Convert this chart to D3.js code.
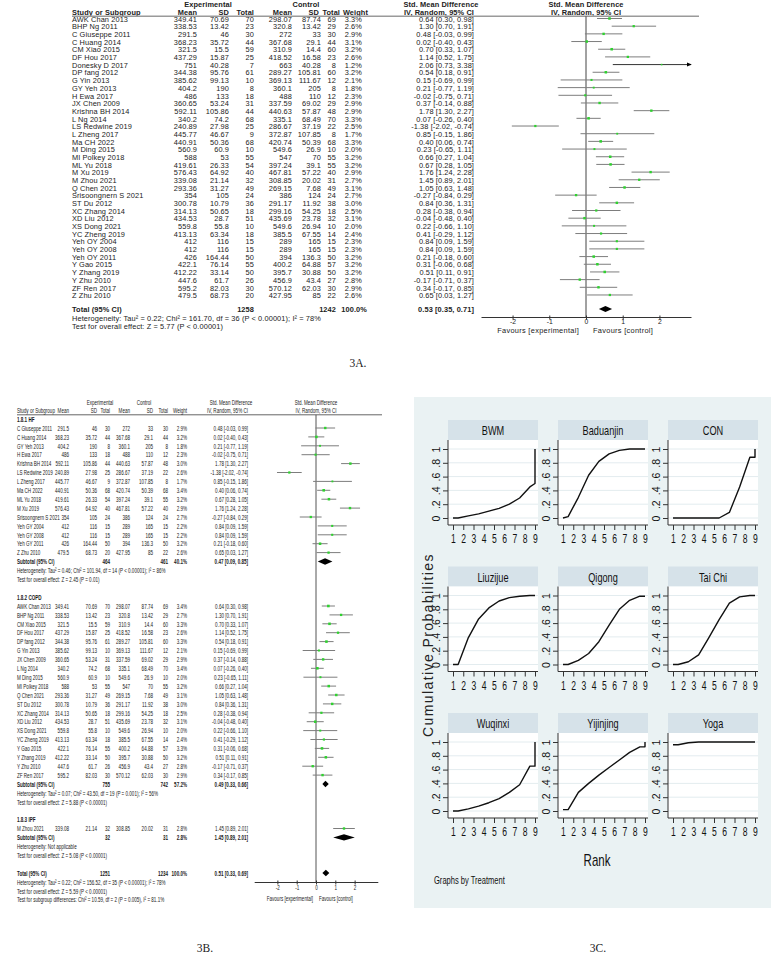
<!DOCTYPE html>
<html>
<head>
<meta charset="utf-8">
<script src="https://cdn.jsdelivr.net/npm/d3@7"></script>
<style>
  body { margin: 0; background: #fff; }
  svg { display: block; }
</style>
</head>
<body>
<svg id="fig" width="776" height="959"></svg>
<script>
// ---- 3A data (all studies) ----
const namesA = ["AWK Chan 2013", "BHP Ng 2011", "C Giuseppe 2011", "C Huang 2014", "CM Xiao 2015", "DF Hou 2017",
  "Donesky D 2017", "DP fang 2012", "G Yin 2013", "GY Yeh 2013", "H Ewa 2017", "JX Chen 2009", "Krishna BH 2014",
  "L Ng 2014", "LS Redwine 2019", "L Zheng 2017", "Ma CH 2022", "M Ding 2015", "MI Polkey 2018", "ML Yu 2018",
  "M Xu 2019", "M Zhou 2021", "Q Chen 2021", "Srisoongnern S 2021", "ST Du 2012", "XC Zhang 2014", "XD Liu 2012",
  "XS Dong 2021", "YC Zheng 2019", "Yeh OY 2004", "Yeh OY 2008", "Yeh OY 2011", "Y Gao 2015", "Y Zhang 2019",
  "Y Zhu 2010", "ZF Ren 2017", "Z Zhu 2010"];
const expMeanA = [349.41, 338.53, 291.5, 368.23, 321.5, 437.29, 751, 344.38, 385.62, 404.2, 486, 360.65, 592.11, 340.2,
  240.89, 445.77, 440.91, 560.9, 588, 419.61, 576.43, 339.08, 293.36, 354, 300.78, 314.13, 434.53, 559.8, 413.13, 412,
  412, 426, 422.1, 412.22, 447.6, 595.2, 479.5];
const expSdA = [70.69, 13.42, 46, 35.72, 15.5, 15.87, 40.28, 95.76, 99.13, 190, 133, 53.24, 105.86, 74.2, 27.98, 46.67,
  50.36, 60.9, 53, 26.33, 64.92, 21.14, 31.27, 105, 10.79, 50.65, 28.7, 55.8, 63.34, 116, 116, 164.44, 76.14, 33.14,
  61.7, 82.03, 68.73];
const expNA = [70, 23, 30, 44, 59, 25, 7, 61, 10, 8, 18, 31, 44, 68, 25, 9, 68, 10, 55, 54, 40, 32, 49, 24, 36, 18, 51,
  10, 18, 15, 15, 50, 55, 50, 26, 30, 20];
const ctlMeanA = [298.07, 320.8, 272, 367.68, 310.9, 418.52, 663, 289.27, 369.13, 360.1, 488, 337.59, 440.63, 335.1,
  286.67, 372.87, 420.74, 549.6, 547, 397.24, 467.81, 308.85, 269.15, 386, 291.17, 299.16, 435.69, 549.6, 385.5, 289,
  289, 394, 400.2, 395.7, 456.9, 570.12, 427.95];
const ctlSdA = [87.74, 13.42, 33, 29.1, 14.4, 16.58, 40.28, 105.81, 111.67, 205, 110, 69.02, 57.87, 68.49, 37.19,
  107.85, 50.39, 26.9, 70, 39.1, 57.22, 20.02, 7.68, 124, 11.92, 54.25, 23.78, 26.94, 67.55, 165, 165, 136.3, 64.88,
  30.88, 43.4, 62.03, 85];
const ctlNA = [69, 29, 30, 44, 60, 23, 8, 60, 12, 8, 12, 29, 48, 70, 22, 8, 68, 10, 55, 55, 40, 31, 49, 24, 38, 18, 32,
  10, 14, 15, 15, 50, 57, 50, 27, 30, 22];
const weightA = [3.3, 2.6, 2.9, 3.1, 3.2, 2.6, 1.2, 3.2, 2.1, 1.8, 2.3, 2.9, 2.9, 3.3, 2.5, 1.7, 3.3, 2.0, 3.2, 3.2, 2.9,
  2.7, 3.1, 2.7, 3.0, 2.5, 3.1, 2.0, 2.4, 2.3, 2.3, 3.2, 3.2, 3.2, 2.8, 2.9, 2.6];
const smdA = [0.64, 1.30, 0.48, 0.02, 0.70, 1.14, 2.06, 0.54, 0.15, 0.21, -0.02, 0.37, 1.78, 0.07, -1.38, 0.85, 0.40,
  0.23, 0.66, 0.67, 1.76, 1.45, 1.05, -0.27, 0.84, 0.28, -0.04, 0.22, 0.41, 0.84, 0.84, 0.21, 0.31, 0.51, -0.17, 0.34, 0.65];
const loA = [0.30, 0.70, -0.03, -0.40, 0.33, 0.52, 0.73, 0.18, -0.69, -0.77, -0.75, -0.14, 1.30, -0.26, -2.02, -0.15,
  0.06, -0.65, 0.27, 0.28, 1.24, 0.89, 0.63, -0.84, 0.36, -0.38, -0.48, -0.66, -0.29, 0.09, 0.09, -0.18, -0.06, 0.11,
  -0.71, -0.17, 0.03];
const hiA = [0.98, 1.91, 0.99, 0.43, 1.07, 1.75, 3.38, 0.91, 0.99, 1.19, 0.71, 0.88, 2.27, 0.40, -0.74, 1.86, 0.74,
  1.11, 1.04, 1.05, 2.28, 2.01, 1.48, 0.29, 1.31, 0.94, 0.40, 1.10, 1.12, 1.59, 1.59, 0.60, 0.68, 0.91, 0.37, 0.85, 1.27];
const totalA = [1258, 1242, 100.0, 0.53, 0.35, 0.71];
const hetA = "Heterogeneity: Tau\u00b2 = 0.22; Chi\u00b2 = 161.70, df = 36 (P < 0.00001); I\u00b2 = 78%";
const testA = "Test for overall effect: Z = 5.77 (P < 0.00001)";

// ---- 3B data (subgroups, indexes into the 3A arrays) ----
const groupLabelsB = ["1.8.1 HF", "1.8.2 COPD", "1.8.3 IPF"];
const groupIdxB = [
  [2, 3, 9, 10, 12, 14, 15, 16, 19, 20, 23, 29, 30, 31, 36],
  [0, 1, 4, 5, 7, 8, 11, 13, 17, 18, 22, 24, 25, 26, 27, 28, 32, 33, 34, 35],
  [21]];
const groupNamesB = [
  ["C Giuseppe 2011", "C Huang 2014", "GY Yeh 2013", "H Ewa 2017", "Krishna BH 2014", "LS Redwine 2019", "L Zheng 2017",
   "Ma CH 2022", "ML Yu 2018", "M Xu 2019", "Srisoongnern S 2021", "Yeh GY 2004", "Yeh GY 2008", "Yeh GY 2011", "Z Zhu 2010"],
  null, null];
const groupWeightB = [
  [2.9, 3.2, 1.8, 2.3, 3.0, 2.6, 1.7, 3.4, 3.2, 2.9, 2.7, 2.2, 2.2, 3.2, 2.6],
  [3.4, 2.7, 3.3, 2.6, 3.3, 2.1, 2.9, 3.4, 2.0, 3.2, 3.1, 3.0, 2.5, 3.1, 2.0, 2.4, 3.3, 3.2, 2.8, 2.9],
  [2.8]];
const subtotalB = [[464, 461, 40.1, 0.47, 0.09, 0.85], [755, 742, 57.2, 0.49, 0.33, 0.66], [32, 31, 2.8, 1.45, 0.89, 2.01]];
const hetB = ["Heterogeneity: Tau\u00b2 = 0.46; Chi\u00b2 = 101.94, df = 14 (P < 0.00001); I\u00b2 = 86%",
  "Heterogeneity: Tau\u00b2 = 0.07; Chi\u00b2 = 43.50, df = 19 (P = 0.001); I\u00b2 = 56%",
  "Heterogeneity: Not applicable"];
const testB = ["Test for overall effect: Z = 2.45 (P = 0.01)", "Test for overall effect: Z = 5.88 (P < 0.00001)",
  "Test for overall effect: Z = 5.08 (P < 0.00001)"];
const totalB = [1251, 1234, 100.0, 0.51, 0.33, 0.69];
const totalTextB = ["Heterogeneity: Tau\u00b2 = 0.22; Chi\u00b2 = 156.52, df = 35 (P < 0.00001); I\u00b2 = 78%",
  "Test for overall effect: Z = 5.59 (P < 0.00001)",
  "Test for subgroup differences: Chi\u00b2 = 10.59, df = 2 (P = 0.005), I\u00b2 = 81.1%"];
const smdTicks = [-2, -1, 0, 1, 2];

// ---- 3C data (cumulative ranking probabilities, [rank, prob]) ----
const treatments = ["BWM", "Baduanjin", "CON", "Liuzijue", "Qigong", "Tai Chi", "Wuqinxi", "Yijinjing", "Yoga"];
const rankTicks = [1, 2, 3, 4, 5, 6, 7, 8, 9];
const probTicks = [0, 0.2, 0.4, 0.6, 0.8, 1];
const cumBWM = [[1, 0], [1.5, 0], [2.5, 0.03], [3.5, 0.06], [4.5, 0.1], [5.5, 0.14], [6.5, 0.2], [7.5, 0.29], [8.5, 0.45], [9, 0.5], [9, 1]];
const cumBaduanjin = [[1, 0], [1.5, 0.02], [2.5, 0.3], [3.5, 0.62], [4.5, 0.82], [5.5, 0.93], [6.5, 0.98], [7.5, 1], [9, 1]];
const cumCON = [[1, 0], [5.5, 0], [6.5, 0.08], [7.5, 0.45], [8.5, 0.88], [9, 0.88], [9, 1]];
const cumLiuzijue = [[1, 0], [1.5, 0], [2.5, 0.39], [3.5, 0.66], [4.5, 0.82], [5.5, 0.92], [6.5, 0.97], [7.5, 0.99], [8.5, 1], [9, 1]];
const cumQigong = [[1, 0], [1.5, 0], [2.5, 0.06], [3.5, 0.16], [4.5, 0.33], [5.5, 0.57], [6.5, 0.8], [7.5, 0.93], [8.5, 0.99], [9, 0.99]];
const cumTaiChi = [[1, 0], [1.5, 0], [2.5, 0.04], [3.5, 0.14], [4.5, 0.39], [5.5, 0.65], [6.5, 0.89], [7.5, 0.98], [8.5, 1], [9, 1]];
const cumWuqinxi = [[1, 0], [1.5, 0], [2.5, 0.03], [3.5, 0.07], [4.5, 0.12], [5.5, 0.18], [6.5, 0.27], [7.5, 0.38], [8.5, 0.65], [9, 0.65], [9, 1]];
const cumYijinjing = [[1, 0.02], [1.5, 0.02], [2.5, 0.27], [3.5, 0.4], [4.5, 0.52], [5.5, 0.63], [6.5, 0.74], [7.5, 0.85], [8.5, 0.93], [9, 0.93], [9, 1]];
const cumYoga = [[1, 0.96], [1.5, 0.96], [2.5, 0.99], [3.5, 1], [9, 1]];
const cumAll = [cumBWM, cumBaduanjin, cumCON, cumLiuzijue, cumQigong, cumTaiChi, cumWuqinxi, cumYijinjing, cumYoga];

// ---------------------------------------------------------------
const svg = d3.select("#fig");
const loc = d3.formatLocale({decimal: ".", thousands: ",", grouping: [3], currency: ["", ""], minus: "-"});
const f2 = loc.format(".2f"), f1 = loc.format(".1f");
const ciStr = (m, l, h) => f2(m) + " [" + f2(l) + ", " + f2(h) + "]";
const SANS = "'Liberation Sans', Arial, sans-serif";
const SERIF = "'Liberation Serif', 'Times New Roman', serif";

// text helper: sx squeezes / stretches horizontally
const txt = (g, x, y, s, o = {}) => g.append("text")
  .attr("transform", "translate(" + x + "," + y + ") scale(" + (o.sx || 1) + ",1)")
  .attr("text-anchor", o.anchor || "start")
  .attr("font-family", o.font || SANS)
  .attr("font-size", o.size || 8)
  .attr("font-weight", o.bold ? "bold" : null)
  .attr("letter-spacing", o.ls || null)
  .attr("fill", o.fill || "#1a1a1a")
  .text(s);

const defs = svg.append("defs");
defs.append("marker").attr("id", "arrow").attr("viewBox", "0 0 6 6").attr("refX", 5).attr("refY", 3)
  .attr("markerWidth", 5).attr("markerHeight", 5).attr("orient", "auto")
  .append("path").attr("d", "M0,0.5L6,3L0,5.5Z").attr("fill", "#000");

const sq = d3.scaleSqrt().domain([0, 3.4]).range([0, 2.6]);
const diamond = (g, x, y, l, m, h, hh) => g.append("path")
  .attr("d", "M" + x(l) + "," + y + "L" + x(m) + "," + (y - hh) + "L" + x(h) + "," + y + "L" + x(m) + "," + (y + hh) + "Z")
  .attr("fill", "#000");

const studyMark = (g, x, y, i, w) => {
  const [d0, d1] = x.domain();
  const line = g.append("line")
    .attr("x1", x(Math.max(loA[i], d0))).attr("x2", x(Math.min(hiA[i], d1)))
    .attr("y1", y).attr("y2", y)
    .attr("stroke", "#7d7d7d").attr("stroke-width", 1);
  if (hiA[i] > d1) line.attr("stroke", "#333").attr("marker-end", "url(#arrow)");
  const s = sq(w);
  g.append("rect").attr("x", x(smdA[i]) - s / 2).attr("y", y - s / 2)
    .attr("width", s).attr("height", s).attr("fill", "#2fd12f");
};

const forestAxis = (g, x, y, o) => {
  g.append("g").attr("transform", "translate(0," + y + ")")
    .call(d3.axisBottom(x).tickValues(smdTicks).tickSize(2.5).tickSizeOuter(0).tickFormat(d => String(d)))
    .call(a => a.select(".domain").attr("stroke", "#333"))
    .call(a => a.selectAll(".tick line").attr("stroke", "#333").attr("y1", -1.5))
    .call(a => a.selectAll(".tick text").attr("font-family", SANS).attr("font-size", o.tick)
      .attr("fill", "#222").attr("y", o.tickY).attr("transform", "scale(" + o.sx + ",1)"));
  txt(g, x(0) - o.gap, o.favY, "Favours [experimental]", {anchor: "end", size: o.size, sx: o.sx, ls: o.ls});
  txt(g, x(0) + o.gap, o.favY, "Favours [control]", {size: o.size, sx: o.sx, ls: o.ls});
};

// ---------------- 3A ----------------
const gA = svg.append("g");
const fA = {size: 7.4, ls: 0.1, fill: "#222"};
const colA = {name: 72, em: 197, es: 229, en: 254, cm: 292, cs: 321, cn: 336, w: 362, ci: 474};
const rowA = i => 19 + 7.68 * i;
const xA = d3.scaleLinear().domain([-2.86, 2.86]).range([481, 691]);

txt(gA, 208, 7, "Experimental", {...fA, anchor: "middle", bold: true});
txt(gA, 306, 7, "Control", {...fA, anchor: "middle", bold: true});
txt(gA, 441, 7, "Std. Mean Difference", {...fA, anchor: "middle", bold: true});
txt(gA, xA(0), 7, "Std. Mean Difference", {...fA, anchor: "middle", bold: true});
txt(gA, colA.name, 14.5, "Study or Subgroup", {...fA, bold: true});
[["Mean", colA.em], ["SD", colA.es], ["Total", colA.en], ["Mean", colA.cm], ["SD", colA.cs - 2], ["Total", colA.cn + 4],
 ["Weight", colA.w + 6], ["IV, Random, 95% CI", colA.ci]]
  .forEach(([s, x]) => txt(gA, x, 14.5, s, {...fA, anchor: "end", bold: true}));
txt(gA, xA(0), 14.5, "IV, Random, 95% CI", {...fA, anchor: "middle", bold: true});
gA.append("line").attr("x1", 72).attr("x2", 699).attr("y1", 16.3).attr("y2", 16.3)
  .attr("stroke", "#9a9a9a").attr("stroke-width", 1.6);

namesA.forEach((n, i) => {
  const y = rowA(i) + 2.7;
  txt(gA, colA.name, y, n, fA);
  txt(gA, colA.em, y, String(expMeanA[i]), {...fA, anchor: "end"});
  txt(gA, colA.es, y, String(expSdA[i]), {...fA, anchor: "end"});
  txt(gA, colA.en, y, String(expNA[i]), {...fA, anchor: "end"});
  txt(gA, colA.cm, y, String(ctlMeanA[i]), {...fA, anchor: "end"});
  txt(gA, colA.cs, y, String(ctlSdA[i]), {...fA, anchor: "end"});
  txt(gA, colA.cn, y, String(ctlNA[i]), {...fA, anchor: "end"});
  txt(gA, colA.w, y, f1(weightA[i]) + "%", {...fA, anchor: "end"});
  txt(gA, colA.ci, y, ciStr(smdA[i], loA[i], hiA[i]), {...fA, anchor: "end"});
});

// total rows
txt(gA, colA.name, 312.3, "Total (95% CI)", {...fA, bold: true});
txt(gA, colA.en, 312.3, String(totalA[0]), {...fA, anchor: "end", bold: true});
txt(gA, colA.cn, 312.3, String(totalA[1]), {...fA, anchor: "end", bold: true});
txt(gA, colA.w + 5, 312.3, f1(totalA[2]) + "%", {...fA, anchor: "end", bold: true});
txt(gA, colA.ci, 312.3, ciStr(totalA[3], totalA[4], totalA[5]), {...fA, anchor: "end", bold: true});
txt(gA, colA.name, 320.5, hetA, fA);
txt(gA, colA.name, 328.5, testA, fA);

// forest
gA.append("line").attr("x1", xA(0)).attr("x2", xA(0)).attr("y1", 16.3).attr("y2", 317)
  .attr("stroke", "#444").attr("stroke-width", 1);
namesA.forEach((n, i) => studyMark(gA, xA, rowA(i) - 0.5, i, weightA[i]));
diamond(gA, xA, 309, totalA[4], totalA[3], totalA[5], 3);
forestAxis(gA, xA, 317, {tick: 6.8, tickY: 2, sx: 1, size: 7.4, ls: 0.3, favY: 332.8, gap: 7});
txt(svg, 358, 367, "3A.", {font: SERIF, size: 11.5, anchor: "middle"});

// ---------------- 3B ----------------
const gB = svg.append("g");
const fB = {size: 7.6, sx: 0.6};
const colB = {name: 17, em: 69, es: 97, en: 110, cm: 130, cs: 153, cn: 168, w: 187, ci: 248};
const rowB = k => 419.1 + 8.9 * k;
const xB = d3.scaleLinear().domain([-3.2, 3.2]).range([254.2, 377.8]);
const bl = 2.7;

txt(gB, 100, 404.5, "Experimental", {...fB, anchor: "middle"});
txt(gB, 144, 404.5, "Control", {...fB, anchor: "middle"});
txt(gB, 231, 404.5, "Std. Mean Difference", {...fB, anchor: "middle"});
txt(gB, xB(0), 404.5, "Std. Mean Difference", {...fB, anchor: "middle"});
txt(gB, colB.name, 413, "Study or Subgroup", fB);
[["Mean", colB.em], ["SD", colB.es], ["Total", colB.en], ["Mean", colB.cm], ["SD", colB.cs], ["Total", colB.cn],
 ["Weight", colB.w], ["IV, Random, 95% CI", colB.ci]]
  .forEach(([s, x]) => txt(gB, x, 413, s, {...fB, anchor: "end"}));
txt(gB, xB(0), 413, "IV, Random, 95% CI", {...fB, anchor: "middle"});
gB.append("line").attr("x1", colB.name).attr("x2", 382).attr("y1", 414.8).attr("y2", 414.8)
  .attr("stroke", "#555").attr("stroke-width", 0.9);
gB.append("line").attr("x1", xB(0)).attr("x2", xB(0)).attr("y1", 414.8).attr("y2", 882)
  .attr("stroke", "#555").attr("stroke-width", 1);

let k = 0;
groupLabelsB.forEach((lab, gi) => {
  txt(gB, colB.name, rowB(k) + bl, lab, {...fB, bold: true});
  k++;
  groupIdxB[gi].forEach((i, j) => {
    const y = rowB(k) + bl;
    const nm = groupNamesB[gi] ? groupNamesB[gi][j] : namesA[i];
    txt(gB, colB.name, y, nm, fB);
    txt(gB, colB.em, y, String(expMeanA[i]), {...fB, anchor: "end"});
    txt(gB, colB.es, y, String(expSdA[i]), {...fB, anchor: "end"});
    txt(gB, colB.en, y, String(expNA[i]), {...fB, anchor: "end"});
    txt(gB, colB.cm, y, String(ctlMeanA[i]), {...fB, anchor: "end"});
    txt(gB, colB.cs, y, String(ctlSdA[i]), {...fB, anchor: "end"});
    txt(gB, colB.cn, y, String(ctlNA[i]), {...fB, anchor: "end"});
    txt(gB, colB.w, y, f1(groupWeightB[gi][j]) + "%", {...fB, anchor: "end"});
    txt(gB, colB.ci, y, ciStr(smdA[i], loA[i], hiA[i]), {...fB, anchor: "end"});
    studyMark(gB, xB, rowB(k), i, groupWeightB[gi][j]);
    k++;
  });
  const st = subtotalB[gi], y = rowB(k) + bl;
  txt(gB, colB.name, y, "Subtotal (95% CI)", {...fB, bold: true});
  txt(gB, colB.en, y, String(st[0]), {...fB, anchor: "end", bold: true});
  txt(gB, colB.cn, y, String(st[1]), {...fB, anchor: "end", bold: true});
  txt(gB, colB.w, y, f1(st[2]) + "%", {...fB, anchor: "end", bold: true});
  txt(gB, colB.ci, y, ciStr(st[3], st[4], st[5]), {...fB, anchor: "end", bold: true});
  diamond(gB, xB, rowB(k), st[4], st[3], st[5], 3.2);
  k++;
  txt(gB, colB.name, rowB(k) + bl, hetB[gi], fB);
  k++;
  txt(gB, colB.name, rowB(k) + bl, testB[gi], fB);
  k += 2;
});

{
  const y = rowB(k) + bl;
  txt(gB, colB.name, y, "Total (95% CI)", {...fB, bold: true});
  txt(gB, colB.en, y, String(totalB[0]), {...fB, anchor: "end", bold: true});
  txt(gB, colB.cn, y, String(totalB[1]), {...fB, anchor: "end", bold: true});
  txt(gB, colB.w, y, f1(totalB[2]) + "%", {...fB, anchor: "end", bold: true});
  txt(gB, colB.ci, y, ciStr(totalB[3], totalB[4], totalB[5]), {...fB, anchor: "end", bold: true});
  diamond(gB, xB, rowB(k), totalB[4], totalB[3], totalB[5], 3.2);
  totalTextB.forEach((s, j) => txt(gB, colB.name, rowB(k + 1 + j) + bl, s, fB));
}
forestAxis(gB, xB, 882, {tick: 7.6, tickY: 2.5, sx: 0.6, size: 7.6, favY: 900.5, gap: 3});
txt(svg, 205, 952, "3B.", {font: SERIF, size: 11.5, anchor: "middle"});

// ---------------- 3C ----------------
const gC = svg.append("g");
gC.append("rect").attr("x", 414).attr("y", 397).attr("width", 357).attr("height", 511).attr("fill", "#eaf2f3");

treatments.forEach((t, n) => {
  const c = n % 3, r = Math.floor(n / 3);
  const left = 448 + 110 * c, top = 420 + 146.5 * r, w = 90, stripH = 20, plotH = 85;
  const pTop = top + stripH, pBot = pTop + plotH;
  const x = d3.scaleLinear().domain([1, 9]).range([left + 5, left + w - 3]);
  const y = d3.scaleLinear().domain([0, 1]).range([pTop + 78, pTop + 9]);
  const p = gC.append("g");

  p.append("rect").attr("x", left).attr("y", top).attr("width", w).attr("height", stripH).attr("fill", "#d6e2e9");
  txt(p, left + w / 2, top + 15, t, {size: 13.5, sx: 0.68, anchor: "middle", fill: "#111"});
  p.append("rect").attr("x", left).attr("y", pTop).attr("width", w).attr("height", plotH).attr("fill", "#fff");

  p.selectAll("line.grid").data(probTicks).join("line").attr("class", "grid")
    .attr("x1", left).attr("x2", left + w).attr("y1", d => y(d)).attr("y2", d => y(d))
    .attr("stroke", "#e3ecef").attr("stroke-width", 1);

  p.append("g").attr("transform", "translate(" + left + ",0)")
    .call(d3.axisLeft(y).tickValues(probTicks).tickSize(5).tickSizeOuter(0)
      .tickFormat(d => d === 0 ? "0" : d === 1 ? "1" : String(d).replace(/^0/, "")))
    .call(a => a.select(".domain").attr("d", "M0," + pTop + "V" + pBot).attr("stroke", "#333"))
    .call(a => a.selectAll(".tick line").attr("stroke", "#333"))
    .call(a => a.selectAll(".tick text").attr("font-family", SANS).attr("font-size", 10.5).attr("fill", "#111")
      .attr("transform", "rotate(-90)").attr("x", 0).attr("y", -8).attr("dy", 0).attr("text-anchor", "middle"));

  p.append("g").attr("transform", "translate(0," + pBot + ")")
    .call(d3.axisBottom(x).tickValues(rankTicks).tickSize(5).tickSizeOuter(0).tickFormat(d => String(d)))
    .call(a => a.select(".domain").attr("d", "M" + left + ",0H" + (left + w)).attr("stroke", "#333"))
    .call(a => a.selectAll(".tick line").attr("stroke", "#333"))
    .call(a => a.selectAll(".tick text").attr("font-family", SANS).attr("font-size", 13).attr("fill", "#111")
      .attr("y", 9).attr("transform", "scale(0.66,1)"));

  p.append("path").datum(cumAll[n])
    .attr("d", d3.line().x(d => x(d[0])).y(d => y(d[1])))
    .attr("fill", "none").attr("stroke", "#111").attr("stroke-width", 1.4).attr("stroke-linejoin", "round");
});

gC.append("text").attr("transform", "translate(433,645) rotate(-90)").attr("text-anchor", "middle")
  .attr("font-family", SANS).attr("font-size", 14).attr("letter-spacing", 1.4).attr("fill", "#222")
  .text("Cumulative Probabilities");
txt(gC, 597, 866, "Rank", {size: 16, sx: 0.72, anchor: "middle", fill: "#111"});
txt(gC, 434, 884, "Graphs by Treatment", {size: 10.5, sx: 0.72, fill: "#111"});
txt(svg, 598, 952, "3C.", {font: SERIF, size: 11.5, anchor: "middle"});
</script>
</body>
</html>
